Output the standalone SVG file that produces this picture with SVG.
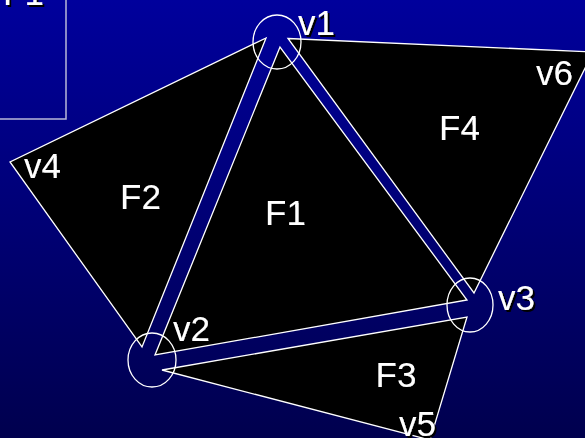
<svg xmlns="http://www.w3.org/2000/svg" width="585" height="438" viewBox="0 0 585 438">
<defs>
<linearGradient id="bg" x1="0" y1="0" x2="0" y2="1">
<stop offset="0" stop-color="#00009C"/>
<stop offset="1" stop-color="#00004E"/>
</linearGradient>
<filter id="shadow" x="-20%" y="-20%" width="150%" height="150%">
<feDropShadow dx="2" dy="2" stdDeviation="0.3" flood-color="#000" flood-opacity="1"/>
</filter>
</defs>
<style>
.face{fill:#000;stroke:#fff;stroke-width:1.3;stroke-linejoin:miter}
.ring{fill:none;stroke:#fff;stroke-width:1.3}
.lbl{font-family:"Liberation Sans",Arial,sans-serif;font-size:35px;fill:#fff;filter:url(#shadow)}
</style>
<rect width="585" height="438" fill="url(#bg)"/>
<g id="legend">
<rect x="-10" y="-10" width="76" height="129" fill="none" stroke="#B8B8D8" stroke-width="1.5"/>
<text class="lbl" x="3" y="5">F1</text>
</g>
<g id="F2">
<polygon class="face" points="266,38 10,162 142,347"/>
<text class="lbl" x="120" y="209">F2</text>
</g>
<g id="F1">
<polygon class="face" points="280,47 155,355 467,300"/>
<text class="lbl" x="265" y="225">F1</text>
</g>
<g id="F4">
<polygon class="face" points="288,38.5 593,52 474,293"/>
<text class="lbl" x="439" y="140">F4</text>
</g>
<g id="F3">
<polygon class="face" points="162,370 467,317 430,440"/>
<text class="lbl" x="375.5" y="387">F3</text>
</g>
<g id="connectors"></g>
<g id="v1">
<ellipse class="ring" cx="277" cy="42" rx="24" ry="27"/>
<text class="lbl" x="298" y="35">v1</text>
</g>
<g id="v2">
<ellipse class="ring" cx="152" cy="360" rx="24" ry="27"/>
<text class="lbl" x="173" y="341">v2</text>
</g>
<g id="v3">
<ellipse class="ring" cx="470" cy="305" rx="23" ry="27"/>
<text class="lbl" x="498" y="310">v3</text>
</g>
<g id="v4">
<text class="lbl" x="24" y="178">v4</text>
</g>
<g id="v5">
<text class="lbl" x="399" y="436">v5</text>
</g>
<g id="v6">
<text class="lbl" x="536" y="85">v6</text>
</g>
</svg>
